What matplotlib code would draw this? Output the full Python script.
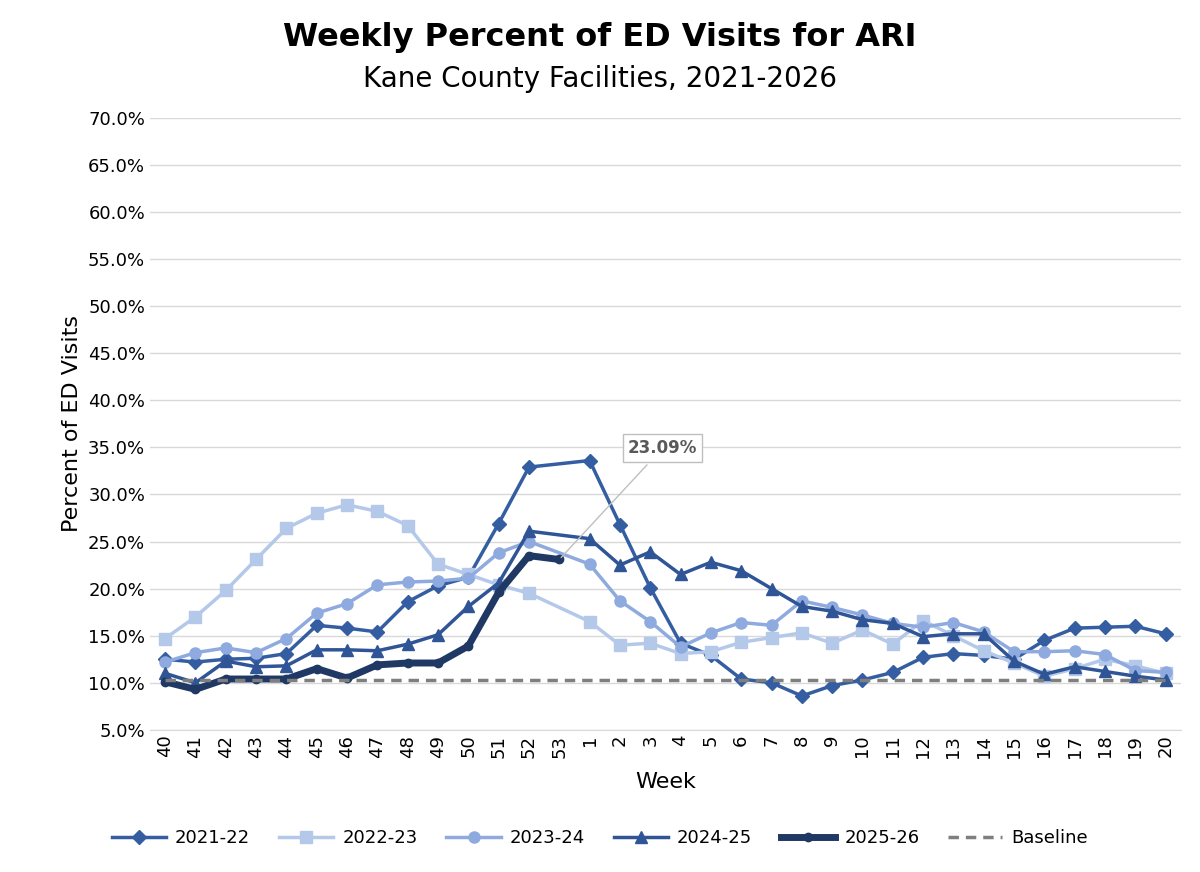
import numpy as np
import matplotlib.pyplot as plt
from matplotlib.ticker import PercentFormatter

weeks = [str(w) for w in list(range(40, 54)) + list(range(1, 21))]
nan = np.nan

s2122 = [12.5, 12.2, 12.5, 12.6, 13.1, 16.1, 15.8, 15.4, 18.6, 20.3, 21.2, 26.9, 32.9, nan,
         33.6, 26.8, 20.1, 14.2, 12.9, 10.4, 10.0, 8.6, 9.7, 10.3, 11.1, 12.7, 13.1, 12.9, 12.5, 14.5, 15.8, 15.9, 16.0, 15.2]
s2223 = [14.7, 17.0, 19.8, 23.1, 26.4, 28.0, 28.9, 28.2, 26.7, 22.6, 21.5, 20.4, 19.5, nan,
         16.5, 14.0, 14.2, 13.1, 13.3, 14.3, 14.8, 15.3, 14.2, 15.6, 14.1, 16.6, 15.0, 13.4, 12.1, 10.7, 11.5, 12.5, 11.8, 11.0]
s2324 = [12.2, 13.2, 13.7, 13.2, 14.7, 17.4, 18.4, 20.4, 20.7, 20.8, 21.1, 23.8, 25.0, nan,
         22.6, 18.7, 16.5, 13.8, 15.3, 16.4, 16.1, 18.7, 18.0, 17.2, 16.3, 15.9, 16.4, 15.4, 13.3, 13.3, 13.4, 13.0, 11.3, 11.1]
s2425 = [11.0, 10.0, 12.3, 11.7, 11.8, 13.5, 13.5, 13.4, 14.1, 15.1, 18.1, 20.6, 26.1, nan,
         25.3, 22.5, 23.9, 21.5, 22.8, 21.9, 20.0, 18.1, 17.6, 16.7, 16.3, 14.9, 15.2, 15.2, 12.3, 10.9, 11.7, 11.2, 10.7, 10.3]
s2526 = [10.1, 9.3, 10.4, 10.4, 10.4, 11.5, 10.5, 11.9, 12.1, 12.1, 13.9, 19.6, 23.5, 23.09]
baseline = 10.3

fig = plt.figure(figsize=(12, 8.72), dpi=100)
ax = fig.add_axes([0.125, 0.163, 0.859, 0.702])

x = np.arange(len(weeks))

def draw(vals, color, marker, ms, lw, label):
    v = np.array(vals, dtype=float)
    xx = x[:len(v)]
    ok = ~np.isnan(v)
    ax.plot(xx[ok], v[ok], color=color, marker=marker, ms=ms, lw=lw, label=label)

draw(s2122, '#345ea1', 'D', 7, 2.5, '2021-22')
draw(s2223, '#b4c8e9', 's', 8, 2.5, '2022-23')
draw(s2324, '#8eaade', 'o', 8, 2.5, '2023-24')
draw(s2425, '#2f5597', '^', 8, 2.5, '2024-25')
draw(s2526, '#1f3864', 'o', 6, 5, '2025-26')
ax.plot(x, [baseline] * len(x), color='#7f7f7f', lw=2.5, ls=(0, (3, 2)), label='Baseline')

ax.annotate('23.09%', xy=(13, s2526[-1]), xytext=(16.4, 34.9),
            fontsize=12, fontweight='bold', color='#595959', ha='center', va='center',
            bbox=dict(boxstyle='square,pad=0.3', fc='white', ec='#bfbfbf'),
            arrowprops=dict(arrowstyle='-', color='#bfbfbf', lw=1))

ax.set_ylim(5, 70)
ax.set_yticks(np.arange(5, 71, 5))
ax.yaxis.set_major_formatter(PercentFormatter(decimals=1))
ax.set_xlim(-0.5, len(weeks) - 0.5)
ax.set_xticks(x)
ax.set_xticklabels(weeks, rotation=90, fontsize=13)
ax.tick_params(axis='y', labelsize=13, length=0)
ax.tick_params(axis='x', length=0)
ax.grid(axis='y', color='#d9d9d9', lw=1)
ax.set_axisbelow(True)
for s in ['top', 'right', 'left']:
    ax.spines[s].set_visible(False)
ax.spines['bottom'].set_color('#d9d9d9')
ax.set_xlabel('Week', fontsize=16, labelpad=10)
ax.set_ylabel('Percent of ED Visits', fontsize=16)

fig.text(0.5, 0.947, 'Weekly Percent of ED Visits for ARI', ha='center', fontsize=23, fontweight='heavy')
fig.text(0.5, 0.9, 'Kane County Facilities, 2021-2026', ha='center', fontsize=20)
fig.legend(loc='lower center', bbox_to_anchor=(0.5, 0.01), ncol=6, frameon=False,
           fontsize=13, handlelength=3, columnspacing=1.6, handletextpad=0.5)

fig.savefig('out.png')
